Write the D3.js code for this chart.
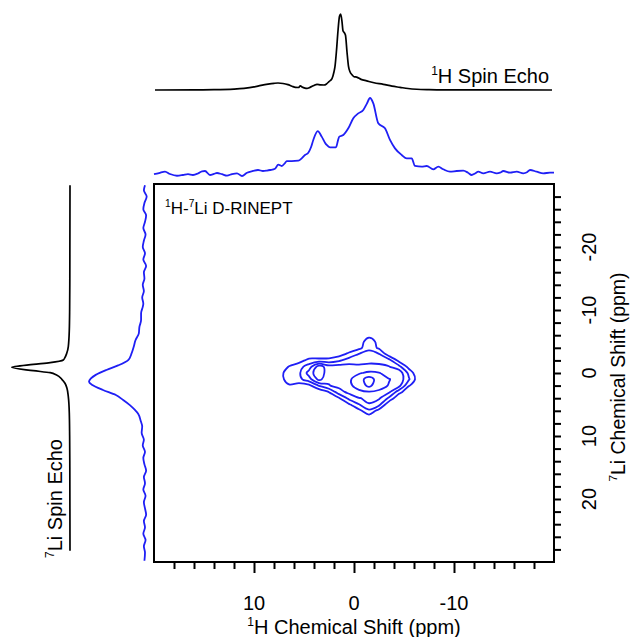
<!DOCTYPE html>
<html>
<head>
<meta charset="utf-8">
<script src="https://cdn.jsdelivr.net/npm/d3@7"></script>
<style>
  html, body { margin: 0; padding: 0; background: #fff; }
  svg { display: block; }
</style>
</head>
<body>
<script>
// ---- 1H spin echo projection: [1H ppm, relative intensity]
const hEcho = [
  [19.9,0],[16,0.002],[14,0.004],[12,0.012],[11,0.022],[10,0.04],[9.3,0.06],[8.6,0.077],
  [8,0.088],[7.6,0.092],[7.1,0.086],[6.6,0.07],[6.2,0.05],[5.85,0.035],[5.55,0.033],[5.37,0.055],
  [5.2,0.04],[4.9,0.025],[4.7,0.022],[4.4,0.035],[4.0,0.06],[3.7,0.075],[3.35,0.068],[3.0,0.066],
  [2.75,0.08],[2.5,0.11],[2.2,0.15],[2.0,0.24],[1.9,0.31],[1.75,0.52],[1.6,0.78],[1.45,0.97],
  [1.33,1.0],[1.2,0.9],[1.1,0.78],[0.95,0.75],[0.85,0.72],[0.7,0.5],[0.55,0.31],[0.4,0.24],
  [0.2,0.2],[0,0.175],[-0.27,0.17],[-0.7,0.14],[-1.27,0.12],[-2,0.095],[-2.93,0.075],[-3.8,0.05],
  [-4.6,0.035],[-5.4,0.02],[-6.27,0.01],[-7.5,0.004],[-9,0.001],[-19.8,0]
];

// ---- 1H-7Li D-RINEPT projection on the 1H axis: [1H ppm, relative intensity]
const hRinept = [
  [20.0,0.01],[19.5,0.025],[18.9,0.045],[18.4,0.013],[17.7,-0.01],[17.1,0.0],[16.6,0.012],[16.1,0.0],
  [15.6,0.02],[15.2,0.048],[14.9,0.052],[14.4,0.0],[14.0,0.015],[13.7,0.026],[13.2,0.01],[12.7,-0.008],
  [12.2,0.012],[11.7,0.022],[11.2,-0.013],[10.7,0.03],[10.1,0.052],[9.6,0.065],[9.1,0.052],[8.7,0.058],
  [8.4,0.065],[7.9,0.082],[7.57,0.134],[7.23,0.117],[6.9,0.155],[6.73,0.18],[6.23,0.18],[5.57,0.186],
  [5.23,0.216],[4.9,0.26],[4.57,0.29],[4.3,0.36],[4.07,0.455],[3.63,0.571],[3.23,0.498],[2.9,0.42],
  [2.73,0.39],[2.4,0.36],[1.8,0.36],[1.6,0.45],[1.47,0.498],[1.07,0.52],[0.57,0.606],[0.07,0.736],
  [-0.43,0.8],[-0.93,0.844],[-1.3,0.93],[-1.6,1.0],[-1.93,0.93],[-2.43,0.671],[-3.1,0.606],[-3.6,0.455],
  [-4.1,0.346],[-4.77,0.26],[-5.27,0.216],[-5.77,0.216],[-6.1,0.117],[-6.77,0.108],[-7.27,0.117],[-7.93,0.074],
  [-8.43,0.108],[-8.93,0.074],[-9.6,0.043],[-10.27,0.052],[-10.93,0.056],[-11.4,0.03],[-11.77,0.0],[-12.1,0.02],
  [-12.43,0.043],[-12.93,0.022],[-13.6,0.043],[-14.27,0.022],[-14.6,0.03],[-14.93,0.052],[-15.6,0.03],[-16.27,0.043],
  [-16.93,0.022],[-17.3,0.035],[-17.6,0.065],[-18.27,0.043],[-18.93,0.022],[-19.6,0.03],[-20,0.03]
];

// ---- 7Li spin echo projection: [7Li ppm, relative intensity]
const liEcho = [
  [-29.8,0],[-15,0.003],[-10,0.006],[-6.8,0.012],[-4.2,0.029],[-3.1,0.057],[-2.4,0.09],[-2.06,0.115],
  [-1.64,0.34],[-1.37,0.63],[-0.9,1.0],[-0.37,0.63],[-0.05,0.34],[0.32,0.23],[1.0,0.14],[1.63,0.086],
  [2.5,0.05],[3.76,0.029],[6.35,0.012],[10,0.006],[15,0.003],[28.2,0]
];

// ---- D-RINEPT projection on the 7Li axis: [7Li ppm, relative intensity]
const liRinept = [
  [-29.8,0.0],[-29,0.02],[-28,-0.03],[-27,0.01],[-26,0.03],[-25,-0.02],[-24,0.0],[-23,0.03],
  [-22,-0.01],[-21,0.02],[-20,0.04],[-19,0.0],[-18,0.03],[-17,-0.02],[-16,0.02],[-15,0.01],
  [-14,0.04],[-13,0.02],[-12,0.05],[-11,0.03],[-10.5,0.04],[-9.5,0.07],[-8.4,0.07],[-7.3,0.1],
  [-6.3,0.11],[-5.2,0.17],[-4.2,0.2],[-3.1,0.24],[-2.06,0.3],[-1.2,0.48],[-0.48,0.69],[0.3,0.88],
  [0.9,0.97],[1.38,1.0],[1.9,0.94],[2.7,0.75],[3.5,0.52],[4.29,0.39],[5.1,0.27],[5.87,0.18],
  [6.5,0.12],[7.5,0.08],[8.5,0.05],[9.5,0.06],[10.6,0.02],[11.5,0.04],[12.5,0.0],[13.5,0.03],
  [14.5,0.01],[15.5,-0.02],[16.5,0.02],[17.5,0.0],[18.5,0.03],[19.5,-0.01],[20.5,0.02],[21.5,0.0],
  [22.5,-0.02],[23.5,0.02],[24.5,0.0],[25.5,0.03],[26.5,-0.01],[27.5,0.02],[28.5,0.0],[29.8,0.01]
];

// ---- 2D D-RINEPT map: grid nodes and intensities (rows = 7Li ppm, columns = 1H ppm)
const gridH = [8.5, 7.5, 6.5, 5.5, 4.5, 3.5, 2.5, 1.5, 0.5, -0.5, -1.5, -2.5, -3.5, -4.5, -5.5, -6.5, -7.5];
const gridLi = [-7, -6, -5, -4, -3, -2, -1, 0, 1, 2, 3, 4, 5, 6, 7, 8];
const gridIntensity = [
  [0, 0, 0, 0, 0, 0, 0, 0, 0, 0.05, 0.2, 0.05, 0, 0, 0, 0, 0],
  [0, 0, 0, 0, 0, 0, 0, 0, 0, 0.2, 0.6, 0.3, 0, 0, 0, 0, 0],
  [0, 0, 0, 0, 0, 0, 0, 0, 0, 0.4, 1.6, 0.6, 0.1, 0, 0, 0, 0],
  [0, 0, 0, 0, 0.05, 0, 0, 0, 0.1, 0.7, 1.7, 0.8, 0.3, 0, 0, 0, 0],
  [0, 0, 0.1, 0.15, 0.3, 0.18, 0.2, 0.5, 1.3, 2.05, 2.45, 2.05, 0.4, 0.1, 0, 0, 0],
  [0, 0, 0.4, 0.6, 1.3, 1.35, 1.4, 1.83, 2.47, 2.6, 2.75, 2.6, 2.4, 0.67, 0.1, 0, 0],
  [0, 0.3, 1.05, 1.6, 2.5, 4.5, 3.4, 3.5, 3.35, 3.2, 3.25, 3.3, 3.05, 2.33, 0.6, 0, 0],
  [0.05, 0.6, 1.5, 1.8, 3.4, 4.8, 3.3, 3.4, 3.6, 3.9, 4.19, 4.05, 3.6, 3.67, 1.7, 0.05, 0],
  [0, 0.5, 1.5, 1.7, 2.6, 4.3, 3.2, 3.5, 3.85, 4.5, 5.54, 4.46, 4.04, 3.7, 2.1, 0.27, 0],
  [0, 0.2, 0.88, 0.55, 0.7, 2.1, 2.95, 3.3, 3.8, 4.4, 5.25, 4.3, 3.95, 3.33, 1.05, 0.4, 0],
  [0, 0, 0.3, 0.2, 0.2, 0.1, 1.05, 2.6, 3.3, 3.8, 3.95, 3.87, 3.2, 1.4, 0.2, 0.1, 0],
  [0, 0, 0.1, 0.05, 0, 0, 0.2, 0.9, 2.29, 2.95, 3.2, 3.15, 1.8, 0.1, 0, 0, 0],
  [0, 0, 0, 0, 0, 0, 0, 0.1, 0.86, 1.95, 2.95, 2.3, 0.2, 0, 0, 0, 0],
  [0, 0, 0, 0, 0, 0, 0, 0, 0.1, 0.7, 1.76, 0.6, 0, 0, 0, 0, 0],
  [0, 0, 0, 0, 0, 0, 0, 0, 0, 0.1, 0.49, 0.1, 0, 0, 0, 0, 0],
  [0, 0, 0, 0, 0, 0, 0, 0, 0, 0, 0.1, 0, 0, 0, 0, 0, 0]
];
const contourLevels = [1, 2, 3, 4, 5];

// ---- axis ticks and labels
const hTicks = d3.range(-18, 19, 2);
const hLabels = [10, 0, -10];
const liTicks = d3.range(-28, 29, 2);
const liLabels = [-20, -10, 0, 10, 20];

const W = 630, H = 637;
const FONT = "'Liberation Sans', Arial, Helvetica, sans-serif";
const BLUE = "#1f1ff5";

const svg = d3.select("body").append("svg")
  .attr("width", W).attr("height", H)
  .attr("font-family", FONT);

// main scales (ppm axes run high -> low)
const x = d3.scaleLinear().domain([20, -20]).range([154, 554]);
const y = d3.scaleLinear().domain([-30, 30]).range([184, 562]);

// projection intensity scales
const yEcho = d3.scaleLinear().domain([0, 1]).range([90, 14]);
const yRin = d3.scaleLinear().domain([0, 1]).range([175, 98]);
const xEcho = d3.scaleLinear().domain([0, 1]).range([70, 11.7]);
const xRin = d3.scaleLinear().domain([0, 1]).range([145, 89]);

// top projections
const topLine = (ys) => d3.line().x(d => x(d[0])).y(d => ys(d[1])).curve(d3.curveMonotoneX);
svg.append("path").attr("d", topLine(yEcho)(hEcho))
  .attr("fill", "none").attr("stroke", "#000").attr("stroke-width", 1.7).attr("stroke-linejoin", "round");
svg.append("path").attr("d", topLine(yRin)(hRinept))
  .attr("fill", "none").attr("stroke", BLUE).attr("stroke-width", 1.8).attr("stroke-linejoin", "round");

// left projections
const sideLine = (xs) => d3.line().x(d => xs(d[1])).y(d => y(d[0])).curve(d3.curveMonotoneY);
svg.append("path").attr("d", sideLine(xEcho)(liEcho))
  .attr("fill", "none").attr("stroke", "#000").attr("stroke-width", 1.7).attr("stroke-linejoin", "round");
svg.append("path").attr("d", sideLine(xRin)(liRinept))
  .attr("fill", "none").attr("stroke", BLUE).attr("stroke-width", 1.8).attr("stroke-linejoin", "round");

// 2D contour map
const nx = gridH.length, ny = gridLi.length;
const flat = gridIntensity.flat();
const contours = d3.contours().size([nx, ny]).thresholds(contourLevels)(flat);
// contour grid coordinate (node i sits at i + 0.5) -> ppm
const gH = d3.scaleLinear().domain([0.5, nx - 0.5]).range([gridH[0], gridH[nx - 1]]);
const gLi = d3.scaleLinear().domain([0.5, ny - 0.5]).range([gridLi[0], gridLi[ny - 1]]);
const ringLine = d3.line()
  .x(p => x(gH(p[0])))
  .y(p => y(gLi(p[1])))
  .curve(d3.curveCatmullRomClosed.alpha(0.5));
const cg = svg.append("g").attr("fill", "none").attr("stroke", BLUE)
  .attr("stroke-width", 1.8).attr("stroke-linejoin", "round");
contours.forEach(c => {
  c.coordinates.forEach(poly => {
    poly.forEach(ring => {
      cg.append("path").attr("d", ringLine(ring.slice(0, -1)));
    });
  });
});

// frame
svg.append("rect")
  .attr("x", x(20)).attr("y", y(-30))
  .attr("width", x(-20) - x(20)).attr("height", y(30) - y(-30))
  .attr("fill", "none").attr("stroke", "#000").attr("stroke-width", 2);

// bottom 1H axis
const xAxis = svg.append("g").attr("transform", `translate(0,${y(30)})`)
  .call(d3.axisBottom(x).tickValues(hTicks).tickSize(7).tickSizeOuter(0).tickFormat(() => ""));
xAxis.select(".domain").remove();
xAxis.selectAll(".tick line").attr("stroke-width", 2)
  .attr("y2", d => (d % 10 === 0 ? 11 : 7));
svg.selectAll(".hlab").data(hLabels).enter().append("text")
  .attr("x", d => x(d)).attr("y", 610)
  .attr("text-anchor", "middle").attr("font-size", 20).text(d => String(d));

// right 7Li axis
const yAxis = svg.append("g").attr("transform", `translate(${x(-20)},0)`)
  .call(d3.axisRight(y).tickValues(liTicks).tickSize(7).tickSizeOuter(0).tickFormat(() => ""));
yAxis.select(".domain").remove();
yAxis.selectAll(".tick line").attr("stroke-width", 2);
svg.selectAll(".llab").data(liLabels).enter().append("text")
  .attr("transform", d => `translate(596,${y(d)}) rotate(-90)`)
  .attr("text-anchor", "middle").attr("font-size", 20).text(d => String(d));

// text with superscripts
function richText(sel, parts, size) {
  parts.forEach(([str, sup]) => {
    sel.append("tspan")
      .attr("font-size", sup ? size * 0.6 : size)
      .attr("baseline-shift", sup ? size * 0.42 : 0)
      .text(str);
  });
  return sel;
}

richText(svg.append("text").attr("x", x(0)).attr("y", 634).attr("text-anchor", "middle"),
  [["1", true], ["H Chemical Shift (ppm)", false]], 20);

richText(svg.append("text").attr("transform", "translate(625,377) rotate(-90)").attr("text-anchor", "middle"),
  [["7", true], ["Li Chemical Shift (ppm)", false]], 19.5);

richText(svg.append("text").attr("x", 549).attr("y", 83).attr("text-anchor", "end"),
  [["1", true], ["H Spin Echo", false]], 20);

richText(svg.append("text").attr("transform", "translate(62,558) rotate(-90)").attr("text-anchor", "start"),
  [["7", true], ["Li Spin Echo", false]], 20);

richText(svg.append("text").attr("x", 165).attr("y", 214).attr("text-anchor", "start"),
  [["1", true], ["H-", false], ["7", true], ["Li D-RINEPT", false]], 17);
</script>
</body>
</html>
